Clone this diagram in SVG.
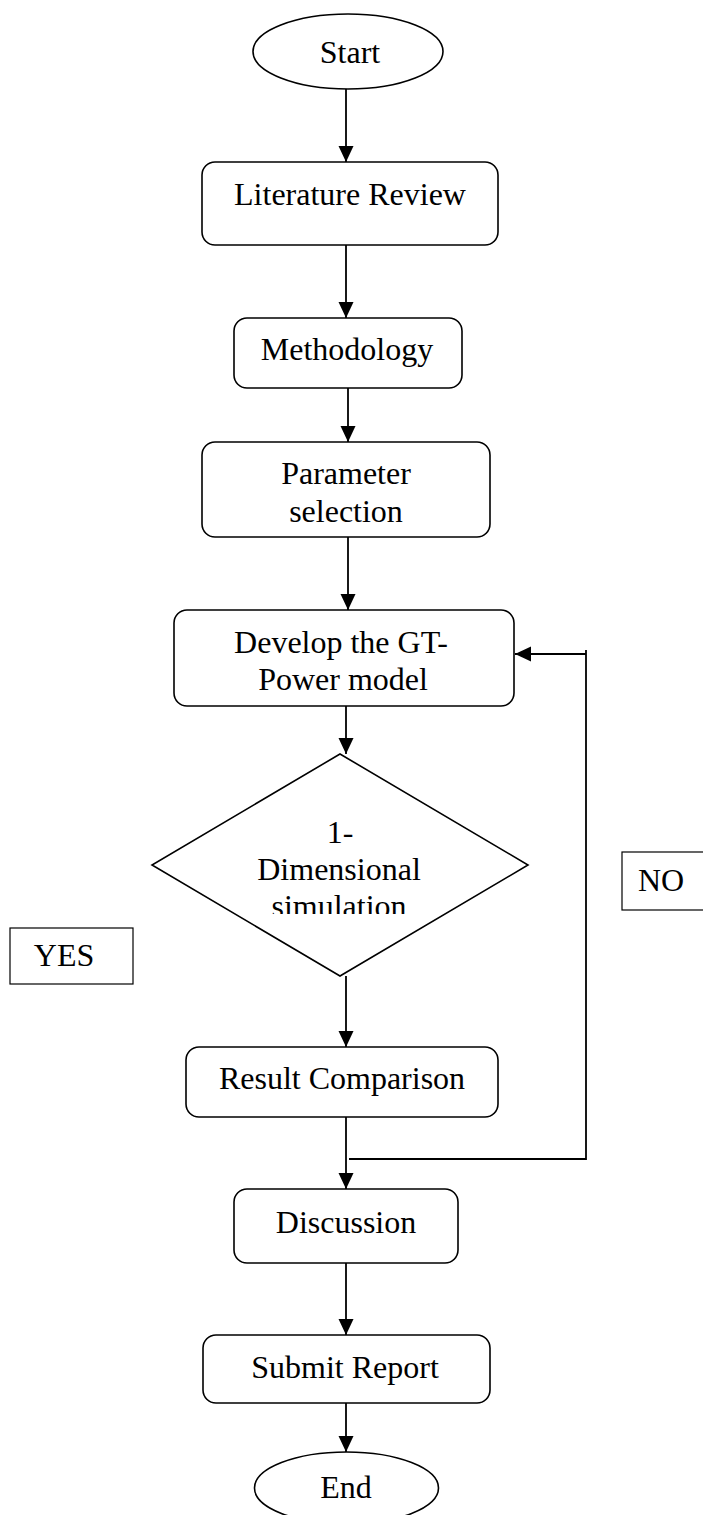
<svg xmlns="http://www.w3.org/2000/svg" width="703" height="1515" viewBox="0 0 703 1515">
<style>
.box{fill:#fff;stroke:#000;stroke-width:1.6}
.lbl{fill:#fff;stroke:#000;stroke-width:1.2}
.t{font-family:"Liberation Serif","Times New Roman",serif;font-size:32px;fill:#000;text-anchor:middle}
.c{fill:none;stroke:#000;stroke-width:1.8}
</style>
<defs>
<marker id="ah" markerUnits="userSpaceOnUse" markerWidth="16" markerHeight="16" refX="16" refY="7.5" orient="auto">
<path d="M0,0 L16,7.5 L0,15 z" fill="#000"/>
</marker>
<clipPath id="clipSim"><rect x="150" y="880" width="380" height="34"/></clipPath>
</defs>
<rect width="703" height="1515" fill="#fff"/>
<g id="connectors">
<line class="c" x1="346" y1="89" x2="346" y2="162" marker-end="url(#ah)"/>
<line class="c" x1="346" y1="245" x2="346" y2="318" marker-end="url(#ah)"/>
<line class="c" x1="348" y1="388" x2="348" y2="442" marker-end="url(#ah)"/>
<line class="c" x1="348" y1="537" x2="348" y2="610" marker-end="url(#ah)"/>
<line class="c" x1="346" y1="706" x2="346" y2="754" marker-end="url(#ah)"/>
<line class="c" x1="346" y1="976" x2="346" y2="1047" marker-end="url(#ah)"/>
<line class="c" x1="346" y1="1117" x2="346" y2="1189" marker-end="url(#ah)"/>
<line class="c" x1="346" y1="1263" x2="346" y2="1335" marker-end="url(#ah)"/>
<line class="c" x1="346" y1="1403" x2="346" y2="1452" marker-end="url(#ah)"/>
<path class="c" d="M349,1159 H586 V650"/>
<line class="c" x1="586" y1="654" x2="515" y2="654" marker-end="url(#ah)"/>
</g>
<g id="start">
<ellipse class="box" cx="348" cy="51.5" rx="95" ry="37.5"/>
<text class="t" x="350" y="63">Start</text>
</g>
<g id="literature">
<rect class="box" x="202" y="162" width="296" height="83" rx="13"/>
<text class="t" x="350" y="205">Literature Review</text>
</g>
<g id="methodology">
<rect class="box" x="234" y="318" width="228" height="70" rx="13"/>
<text class="t" x="347" y="360">Methodology</text>
</g>
<g id="parameter">
<rect class="box" x="202" y="442" width="288" height="95" rx="13"/>
<text class="t" x="346" y="484">Parameter</text>
<text class="t" x="346" y="522">selection</text>
</g>
<g id="develop">
<rect class="box" x="174" y="610" width="340" height="96" rx="13"/>
<text class="t" x="341" y="653">Develop the GT-</text>
<text class="t" x="343" y="690">Power model</text>
</g>
<g id="simulation">
<polygon class="box" points="340,754 528,865 340,976 152,865"/>
<text class="t" x="340" y="843">1-</text>
<text class="t" x="339" y="880">Dimensional</text>
<text class="t" x="339" y="917" clip-path="url(#clipSim)">simulation</text>
</g>
<g id="result">
<rect class="box" x="186" y="1047" width="312" height="70" rx="13"/>
<text class="t" x="342" y="1089">Result Comparison</text>
</g>
<g id="discussion">
<rect class="box" x="234" y="1189" width="224" height="74" rx="13"/>
<text class="t" x="346" y="1233">Discussion</text>
</g>
<g id="submit">
<rect class="box" x="203" y="1335" width="287" height="68" rx="13"/>
<text class="t" x="345" y="1378">Submit Report</text>
</g>
<g id="end">
<ellipse class="box" cx="346.5" cy="1488" rx="92" ry="36"/>
<text class="t" x="346" y="1498">End</text>
</g>
<g id="yes">
<rect class="lbl" x="10" y="928" width="123" height="56"/>
<text class="t" x="64" y="966">YES</text>
</g>
<g id="no">
<rect class="lbl" x="622" y="852" width="90" height="58"/>
<text class="t" x="661" y="891">NO</text>
</g>
</svg>
